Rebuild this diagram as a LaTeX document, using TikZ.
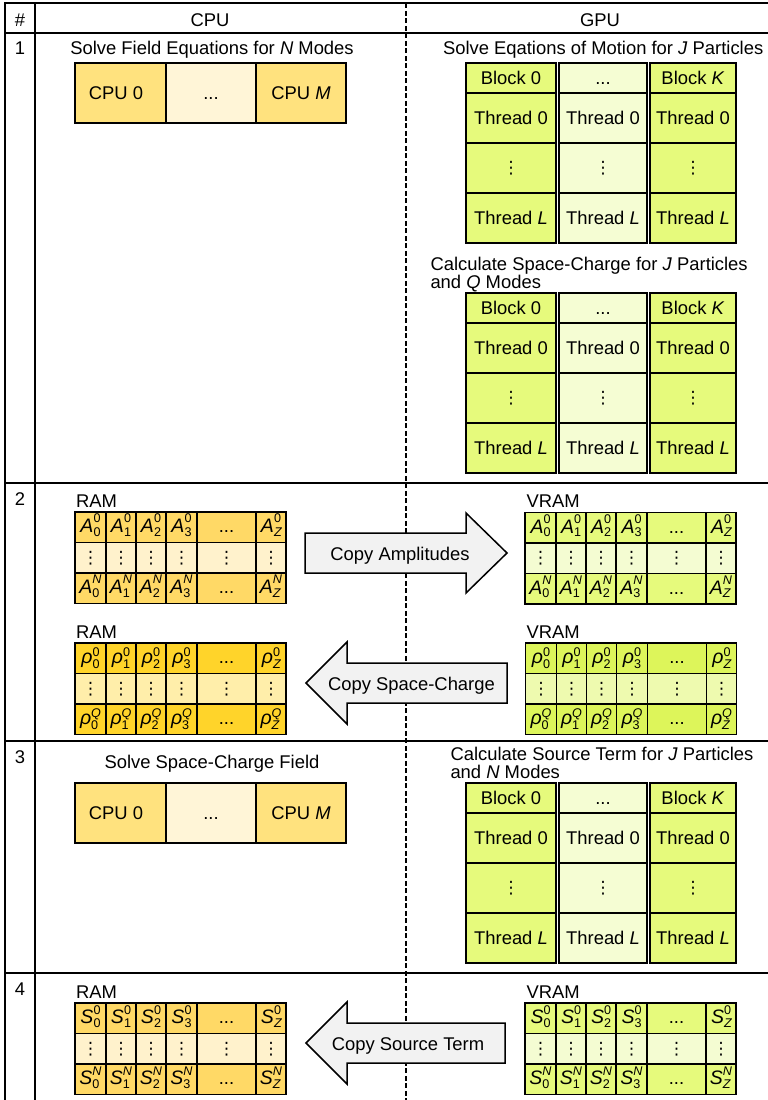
\documentclass[tikz,border=0pt]{standalone}
\usepackage{fontspec}
\setmainfont{Liberation Sans}
\newfontfamily\djv{DejaVu Sans}
\definecolor{cpuc}{HTML}{FFE27E}
\definecolor{cpul}{HTML}{FFF5D7}
\definecolor{gpuc}{HTML}{E6FA7C}
\definecolor{gpul}{HTML}{F5FDD3}
\definecolor{ramA}{HTML}{FFD966}
\definecolor{ramAl}{HTML}{FFF2CC}
\definecolor{ramR}{HTML}{FFD42A}
\definecolor{ramRl}{HTML}{FFEEAA}
\definecolor{vramA}{HTML}{E6FA7C}
\definecolor{vramAl}{HTML}{F4FCD2}
\definecolor{vramR}{HTML}{DDF55A}
\definecolor{vramRl}{HTML}{EEFAAF}
\definecolor{arrowc}{HTML}{F2F2F2}
\newcommand\fsz{\fontsize{18.4}{18}\selectfont}
\newcommand\basesz{\fontsize{19.5}{18}\selectfont}
\newcommand\subsz{\fontsize{12.6}{12}\selectfont}
\newcommand\vd{{\djv\fontsize{17}{17}\selectfont ⋮}}
\def\mbase{A}\def\mraise{10pt}\def\mlower{3.5pt}
\newcommand\sbsp[3]{{\basesz\textit{#1}}\rlap{\raisebox{-\mlower}{\subsz #3}}\raisebox{\mraise}{\subsz #2}}
\tikzset{
  frame/.style={line width=1.8pt, draw=black},
  cellln/.style={draw=black, line width=1.5pt},
  txt/.style={inner sep=0pt, outer sep=0pt, anchor=base, font=\fsz},
  txtl/.style={inner sep=0pt, outer sep=0pt, anchor=base west, font=\fsz},
  dotsn/.style={inner sep=0pt, outer sep=0pt, anchor=center, font=\fsz},
  blockarrow/.style={draw=black, line width=1.5pt, fill=arrowc, line join=miter},
}
% cell with centred text
\newcommand\cellt[7]{%
  \filldraw[cellln, fill=#6] (#2,#3) rectangle (#4,#5);
  \node[txt] (#1) at ({(#2+#4)/2},{(#3+#5)/2+6.6}) {#7};}
% memory cell, text baseline 10 above bottom
\newcommand\mcell[7]{%
  \filldraw[cellln, fill=#6] (#2,#3) rectangle (#4,#5);
  \node[txt] (#1) at ({(#2+#4)/2},{#5-10}) {#7};}
% cell with vertical dots
\newcommand\vcell[6]{%
  \filldraw[cellln, fill=#6] (#2,#3) rectangle (#4,#5);
  \node[dotsn] (#1) at ({(#2+#4)/2},{(#3+#5)/2}) {\vd};}
\newcommand\gcol[7]{%
  \cellt{#1b#2}{#3}{#7}{#4}{#7+30}{#5}{#6}
  \cellt{#1t#2}{#3}{#7+30}{#4}{#7+80}{#5}{Thread 0}
  \vcell{#1d#2}{#3}{#7+80}{#4}{#7+130}{#5}
  \cellt{#1l#2}{#3}{#7+130}{#4}{#7+180}{#5}{Thread \textit{L}}}
\newcommand\gpugrid[2]{%
  \gcol{#1}{1}{466}{556}{gpuc}{Block 0}{#2}
  \gcol{#1}{2}{559}{647}{gpul}{...}{#2}
  \gcol{#1}{3}{650}{736}{gpuc}{Block \textit{K}}{#2}}
\newcommand\cpubox[3]{%
  \filldraw[cellln, fill=cpuc] (75,#2) rectangle (166,#3);
  \filldraw[cellln, fill=cpul] (166,#2) rectangle (256,#3);
  \filldraw[cellln, fill=cpuc] (256,#2) rectangle (346,#3);
  \node[txt] (#1a) at (116,{(#2+#3)/2+6.6}) {CPU 0};
  \node[txt] (#1b) at (211,{(#2+#3)/2+6.6}) {...};
  \node[txt] (#1c) at (301,{(#2+#3)/2+6.6}) {CPU \textit{M}};}
\newcommand\memgrid[7]{%
  \foreach \k/\xa/\xb in {0/0/31,1/31/61,2/61/91,3/91/122}{%
    \mcell{#1t\k}{#2+\xa}{#3}{#2+\xb}{#3+30.5}{#4}{\sbsp{\mbase}{#6}{\k}}
    \vcell{#1m\k}{#2+\xa}{#3+30.5}{#2+\xb}{#3+61}{#5}
    \mcell{#1b\k}{#2+\xa}{#3+61}{#2+\xb}{#3+91.5}{#4}{\sbsp{\mbase}{#7}{\k}}
  }
  \mcell{#1t4}{#2+122}{#3}{#2+181}{#3+30.5}{#4}{...}
  \vcell{#1m4}{#2+122}{#3+30.5}{#2+181}{#3+61}{#5}
  \mcell{#1b4}{#2+122}{#3+61}{#2+181}{#3+91.5}{#4}{...}
  \mcell{#1t5}{#2+181}{#3}{#2+211}{#3+30.5}{#4}{\sbsp{\mbase}{#6}{\textit{Z}}}
  \vcell{#1m5}{#2+181}{#3+30.5}{#2+211}{#3+61}{#5}
  \mcell{#1b5}{#2+181}{#3+61}{#2+211}{#3+91.5}{#4}{\sbsp{\mbase}{#7}{\textit{Z}}}}
\begin{document}
\begin{tikzpicture}[x=1pt,y=-1pt]
\useasboundingbox[fill=white] (0,0) rectangle (768,1100);
\begin{scope}
\clip (0,0) rectangle (768,1100);
% table frame
\draw[frame] (5,3.3) -- (768,3.3);
\draw[frame] (5,2.4) -- (5,1100);
\draw[frame] (35,3.3) -- (35,1100);
\draw[frame] (5,33) -- (768,33);
\draw[frame] (5,483) -- (768,483);
\draw[frame] (5,741) -- (768,741);
\draw[frame] (5,973) -- (768,973);
\draw[line width=1.5pt, dash pattern=on 5pt off 2.5pt] (406,3.3) -- (406,1100);
% header
\node[txt] (hnum) at (20,26) {\#};
\node[txt] (hcpu) at (210,26) {CPU};
\node[txt] (hgpu) at (600,26) {GPU};
\node[txt] (n1) at (20,54) {1};
\node[txt] (n2) at (20,505) {2};
\node[txt] (n3) at (20,763) {3};
\node[txt] (n4) at (20,995) {4};
% section 1
\node[txt] (s1cpu) at (212,54) {Solve Field Equations for \textit{N} Modes};
\cpubox{c1}{63}{123}
\node[txtl] (s1gpu) at (443,54) {Solve Eqations of Motion for \textit{J} Particles};
\gpugrid{ga}{63}
\node[txtl] (s1gpub) at (430.5,270) {Calculate Space-Charge for \textit{J} Particles};
\node[txtl] (s1gpuc) at (430.5,288) {and \textit{Q} Modes};
\gpugrid{gb}{293}
% section 2
\node[txtl] (ram1) at (76,507) {RAM};
\def\mbase{A}\def\mraise{10pt}\def\mlower{3.5pt}
\memgrid{ra}{75}{512}{ramA}{ramAl}{0}{\textit{N}}
\node[txtl] (vram1) at (526.5,507.5) {VRAM};
\memgrid{va}{525}{512.5}{vramA}{vramAl}{0}{\textit{N}}
\draw[blockarrow] (305,533) -- (466,533) -- (466,513) -- (507,553) -- (466,593) -- (466,573) -- (305,573) -- cycle;
\node[txt] (cpa) at (400,560) {Copy Amplitudes};
\node[txtl] (ram2) at (76,638) {RAM};
\def\mbase{ρ}\def\mraise{7pt}\def\mlower{4.5pt}
\memgrid{rr}{75}{643}{ramR}{ramRl}{0}{\textit{Q}}
\node[txtl] (vram2) at (526.5,638) {VRAM};
\memgrid{vr}{525.5}{643}{vramR}{vramRl}{0}{\textit{Q}}
\draw[blockarrow] (306,683) -- (347,642) -- (347,663) -- (507,663) -- (507,703) -- (347,703) -- (347,724) -- cycle;
\node[txt] (cpr) at (411.5,690) {Copy Space-Charge};
% section 3
\node[txt] (s3cpu) at (212,768) {Solve Space-Charge Field};
\cpubox{c3}{783}{843}
\node[txtl] (s3gpu) at (450.5,760) {Calculate Source Term for \textit{J} Particles};
\node[txtl] (s3gpub) at (450.5,778) {and \textit{N} Modes};
\gpugrid{gc}{783}
% section 4
\node[txtl] (ram3) at (76,998) {RAM};
\def\mbase{S}\def\mraise{9pt}\def\mlower{3.5pt}
\memgrid{rs}{75}{1003}{ramA}{ramAl}{0}{\textit{N}}
\node[txtl] (vram3) at (526.5,998) {VRAM};
\memgrid{vs}{525}{1003}{vramA}{vramAl}{0}{\textit{N}}
\draw[blockarrow] (306,1043) -- (347,1002) -- (347,1023) -- (505,1023) -- (505,1063) -- (347,1063) -- (347,1084) -- cycle;
\node[txt] (cps) at (408,1050) {Copy Source Term};
\end{scope}
\end{tikzpicture}
\end{document}
